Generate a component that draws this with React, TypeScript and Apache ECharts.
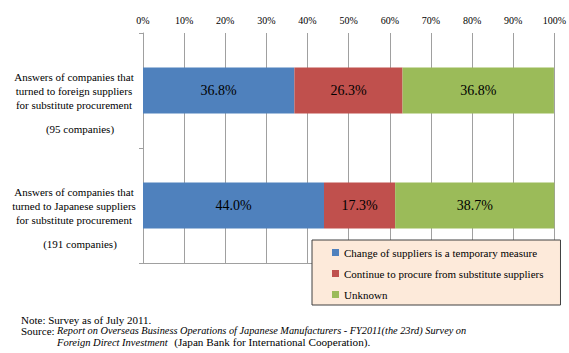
import React, { useEffect, useRef } from "react";
import * as echarts from "echarts";

const categories = [
  "Answers of companies that\nturned to foreign suppliers\nfor substitute procurement",
  "Answers of companies that\nturned to Japanese suppliers\nfor substitute procurement",
];
const companyCounts = ["(95 companies)", "(191 companies)"];
const seriesNames = [
  "Change of suppliers is a temporary measure",
  "Continue to procure from substitute suppliers",
  "Unknown",
];
const temporaryValues = [36.8, 44.0];
const continueValues = [26.3, 17.3];
const unknownValues = [36.8, 38.7];
const colors = ["#4F81BD", "#C0504D", "#9BBB59"];

const SERIF = "serif";

export default function App() {
  const ref = useRef<HTMLDivElement>(null);
  useEffect(() => {
    if (!ref.current) return;
    const chart = echarts.init(ref.current, undefined, { renderer: "svg" });
    const values = [temporaryValues, continueValues, unknownValues];
    const labelText = categories.map((c, i) => {
      const lines = c.split("\n").map((l) => `{a|${l}}`);
      return lines.join("\n") + `\n{b|${companyCounts[i]}}`;
    });
    chart.setOption({
      animation: false,
      grid: { left: 143, right: 11, top: 33, bottom: 90, containLabel: false },
      xAxis: [
        {
          type: "value",
          position: "top",
          min: 0,
          max: 100,
          interval: 10,
          axisLabel: {
            formatter: "{value}%",
            fontSize: 10,
            color: "#000",
            fontFamily: SERIF,
            margin: 8,
          },
          axisLine: { show: false },
          axisTick: { show: false },
          splitLine: { lineStyle: { color: "#A0A0A0", width: 1 } },
        },
        {
          type: "value",
          position: "bottom",
          min: 0,
          max: 100,
          axisLabel: { show: false },
          axisTick: { show: false },
          splitLine: { show: false },
          axisLine: { show: true, lineStyle: { color: "#A0A0A0", width: 1 } },
        },
      ],
      yAxis: {
        type: "category",
        inverse: true,
        data: labelText,
        axisLine: { show: true, lineStyle: { color: "#A0A0A0", width: 1 } },
        axisTick: { show: true, length: 4, lineStyle: { color: "#A0A0A0" } },
        axisLabel: {
          align: "center",
          margin: 69,
          padding: [34, 0, 0, 0],
          fontFamily: SERIF,
          rich: {
            a: { fontSize: 11, lineHeight: 14, color: "#000", fontFamily: SERIF, align: "center" },
            b: {
              fontSize: 11,
              lineHeight: 34,
              color: "#000",
              fontFamily: SERIF,
              padding: [0, 0, 0, 12],
              align: "center",
            },
          },
        },
      },
      legend: {
        orient: "vertical",
        left: 312,
        top: 240,
        data: seriesNames,
        icon: "rect",
        itemWidth: 7,
        itemHeight: 7,
        itemGap: 10,
        padding: [7, 17, 5, 20],
        backgroundColor: "#FDEADA",
        borderColor: "#404040",
        borderWidth: 1,
        textStyle: { fontSize: 11, color: "#000", fontFamily: SERIF },
      },
      series: seriesNames.map((name, i) => ({
        name,
        type: "bar",
        stack: "total",
        barWidth: "40%",
        itemStyle: { color: colors[i] },
        label: {
          show: true,
          position: "inside",
          fontSize: 14,
          color: "#000",
          fontFamily: SERIF,
          formatter: (p: any) => `${Number(p.value).toFixed(1)}%`,
        },
        data: values[i],
      })),
      graphic: [
        {
          type: "text",
          left: 21,
          top: 314,
          style: { text: "Note: Survey as of July 2011.", fontFamily: SERIF, fontSize: 11, fill: "#000" },
        },
        {
          type: "text",
          left: 21,
          top: 325,
          style: { text: "Source:", fontFamily: SERIF, fontSize: 11, fill: "#000" },
        },
        {
          type: "text",
          left: 57,
          top: 325,
          style: {
            text: "Report on Overseas Business Operations of Japanese Manufacturers - FY2011(the 23rd) Survey on",
            fontFamily: SERIF,
            fontStyle: "italic",
            fontSize: 10.3,
            fill: "#000",
          },
        },
        {
          type: "text",
          left: 57,
          top: 336,
          style: {
            text: "{i|Foreign Direct Investment}  {n|(Japan Bank for International Cooperation).}",
            rich: {
              i: { fontFamily: SERIF, fontStyle: "italic", fontSize: 10.5, fill: "#000" },
              n: { fontFamily: SERIF, fontSize: 11.2, fill: "#000" },
            },
          },
        },
      ],
    });
    return () => chart.dispose();
  }, []);
  return (
    <div
      ref={ref}
      style={{ position: "absolute", left: 0, top: 0, width: 569, height: 353 }}
    />
  );
}
